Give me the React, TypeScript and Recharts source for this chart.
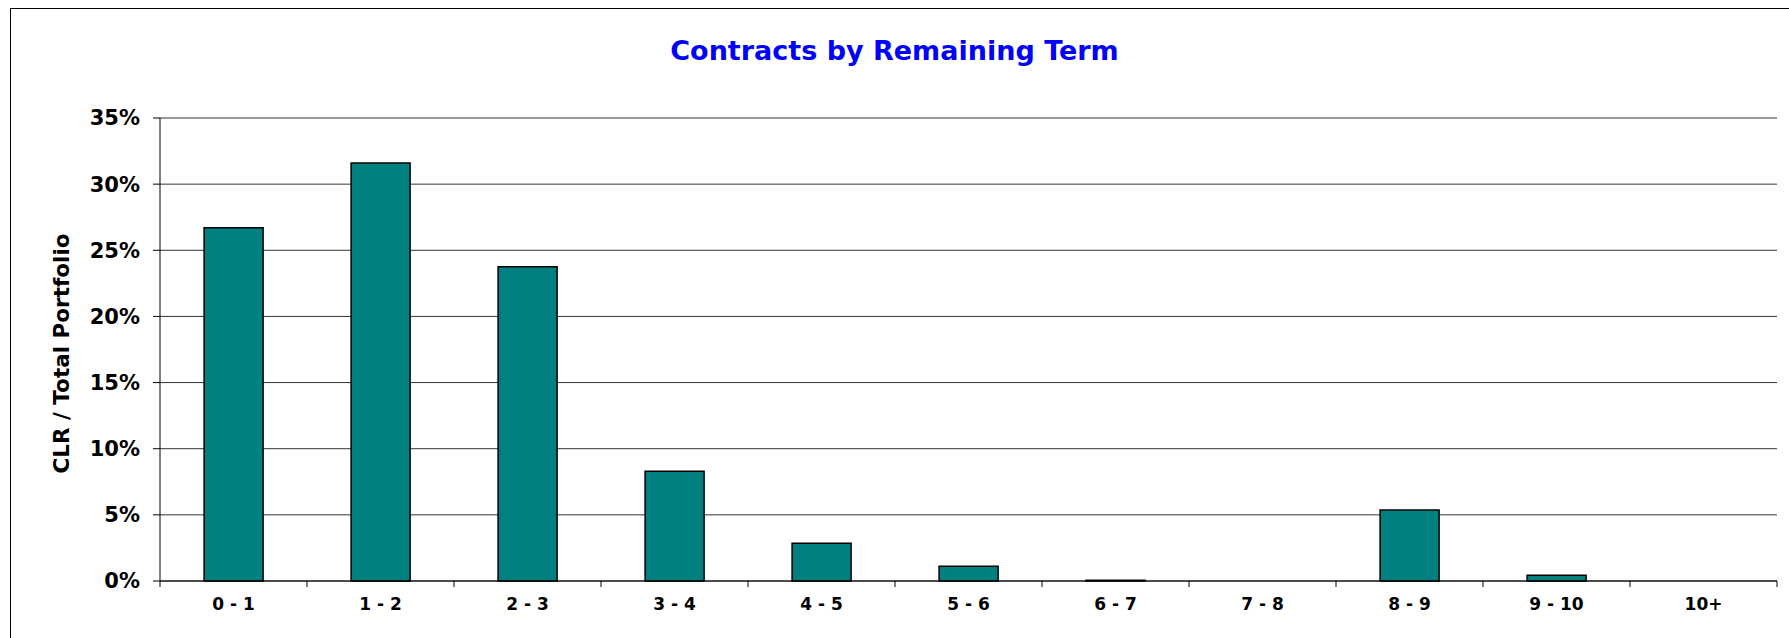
import { BarChart, Bar, XAxis, YAxis, CartesianGrid, Label } from "recharts";

const FONT = '"DejaVu Sans", Verdana, sans-serif';
const TEAL = "#008080";

const CHART_W = 1789;
const CHART_H = 638;
const PLOT_LEFT = 160;
const PLOT_RIGHT = 12;

const terms = ["0 - 1", "1 - 2", "2 - 3", "3 - 4", "4 - 5", "5 - 6", "6 - 7", "7 - 8", "8 - 9", "9 - 10", "10+"];
const shares = [0.267, 0.316, 0.2375, 0.0829, 0.0286, 0.0111, 0.0006, 0, 0.0536, 0.0044, 0];
const yTicks = [0, 0.05, 0.1, 0.15, 0.2, 0.25, 0.3, 0.35];

const data = terms.map((term, i) => ({ term, share: shares[i] }));

const halfBand = (CHART_W - PLOT_LEFT - PLOT_RIGHT) / terms.length / 2;
const X_TICK = 7;
const X_GAP = 10;

// x tick: label under the bar + tick marks on category boundaries
// eslint-disable-next-line @typescript-eslint/no-explicit-any
function TermTick(props: any) {
  const { x, y, payload, index } = props;
  const axisY = y - X_TICK - X_GAP;
  return (
    <g>
      <line x1={x - halfBand} x2={x - halfBand} y1={axisY} y2={axisY + 6} stroke="#000" />
      {index === terms.length - 1 && (
        <line x1={x + halfBand} x2={x + halfBand} y1={axisY} y2={axisY + 6} stroke="#000" />
      )}
      <text
        x={x}
        y={y}
        dy="0.71em"
        textAnchor="middle"
        fontSize={17}
        fontWeight={700}
        fill="#000"
        style={{ fontFamily: FONT }}
      >
        {payload.value}
      </text>
    </g>
  );
}

export default function App() {
  return (
    <div
      style={{
        position: "absolute",
        left: 0,
        top: 0,
        width: CHART_W,
        height: CHART_H,
        background: "#fff",
        overflow: "hidden",
      }}
    >
      {/* chart frame, right/bottom edges fall outside the picture */}
      <div
        style={{
          position: "absolute",
          left: 10,
          top: 8,
          width: CHART_W,
          height: CHART_H,
          borderLeft: "1.5px solid #000",
          borderTop: "1.5px solid #000",
        }}
      />
      <div
        style={{
          position: "absolute",
          left: 0,
          width: CHART_W,
          top: 35,
          textAlign: "center",
          color: "#0000FF",
          fontFamily: FONT,
          fontWeight: 700,
          fontSize: 27,
          lineHeight: "normal",
        }}
      >
        Contracts by Remaining Term
      </div>
      <div style={{ position: "absolute", left: 0, top: 0 }}>
        <BarChart
          width={CHART_W}
          height={CHART_H}
          data={data}
          margin={{ top: 118, right: PLOT_RIGHT, bottom: 0, left: 0 }}
          barCategoryGap="30%"
        >
          <CartesianGrid vertical={false} stroke="#333" strokeWidth={1} />
          <XAxis
            dataKey="term"
            height={57}
            interval={0}
            axisLine={{ stroke: "#000" }}
            tickLine={false}
            tickSize={X_TICK}
            tickMargin={X_GAP}
            tick={<TermTick />}
          />
          <YAxis
            width={PLOT_LEFT}
            domain={[0, 0.35]}
            ticks={yTicks}
            interval={0}
            tickFormatter={(v: number) => `${Math.round(v * 100)}%`}
            axisLine={{ stroke: "#000" }}
            tickLine={{ stroke: "#000" }}
            tickSize={7}
            tickMargin={13}
            tick={{ fontSize: 21, fontWeight: 700, fill: "#000", fontFamily: FONT }}
          >
            <Label
              content={({ viewBox }: any) => {
                const cx = 61;
                const cy = viewBox.y + viewBox.height / 2 + 4;
                return (
                  <text
                    x={cx}
                    y={cy}
                    transform={`rotate(-90 ${cx} ${cy})`}
                    textAnchor="middle"
                    dominantBaseline="central"
                    fontSize={21.5}
                    fontWeight={700}
                    fill="#000"
                    style={{ fontFamily: FONT }}
                  >
                    CLR / Total Portfolio
                  </text>
                );
              }}
            />
          </YAxis>
          <Bar
            dataKey="share"
            fill={TEAL}
            stroke="#000"
            strokeWidth={1.5}
            isAnimationActive={false}
          />
        </BarChart>
      </div>
    </div>
  );
}
